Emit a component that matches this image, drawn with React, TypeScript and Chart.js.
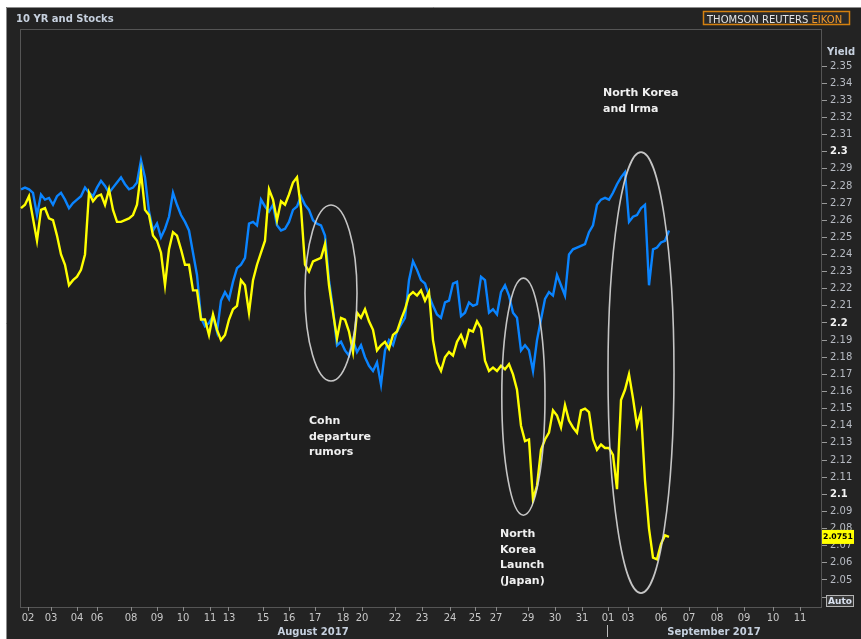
import React, { useEffect, useRef } from "react";
import { Chart, registerables } from "chart.js";

Chart.register(...registerables);

const FONT = '"DejaVu Sans", Verdana, sans-serif';

// Intraday samples (uniform step), 1 Aug 2017 evening -> 6 Sep 2017
const stocksScaled = [
  2.278, 2.279, 2.278, 2.276, 2.263, 2.275, 2.272, 2.273, 2.269, 2.274,
  2.276, 2.272, 2.267, 2.270, 2.272, 2.274, 2.279, 2.276, 2.274, 2.279,
  2.283, 2.280, 2.276, 2.279, 2.282, 2.285, 2.281, 2.278, 2.279, 2.282,
  2.295, 2.285, 2.265, 2.254, 2.258, 2.250, 2.255, 2.262, 2.276, 2.269,
  2.263, 2.259, 2.254, 2.241, 2.228, 2.203, 2.198, 2.200, 2.204, 2.195,
  2.213, 2.218, 2.214, 2.224, 2.232, 2.234, 2.238, 2.258, 2.259, 2.257,
  2.272, 2.268, 2.265, 2.269, 2.257, 2.254, 2.255, 2.259, 2.266, 2.268,
  2.274, 2.269, 2.266, 2.260, 2.258, 2.257, 2.251, 2.225, 2.208, 2.187,
  2.189, 2.184, 2.181, 2.190, 2.183, 2.187, 2.180, 2.175, 2.172, 2.177,
  2.164, 2.184, 2.190, 2.187, 2.195, 2.199, 2.203, 2.225, 2.236, 2.231,
  2.225, 2.223, 2.216, 2.210, 2.205, 2.203, 2.212, 2.213, 2.223, 2.224,
  2.204, 2.206, 2.212, 2.210, 2.211, 2.227, 2.225, 2.206, 2.208, 2.205,
  2.218, 2.222, 2.216, 2.206, 2.203, 2.184, 2.187, 2.184, 2.172, 2.190,
  2.202, 2.214, 2.218, 2.216, 2.228, 2.222, 2.216, 2.240, 2.243, 2.244,
  2.245, 2.246, 2.253, 2.257, 2.269, 2.272, 2.273, 2.272, 2.276, 2.281,
  2.285, 2.288, 2.259, 2.262, 2.263, 2.267, 2.269, 2.222, 2.243, 2.244,
  2.247, 2.248, 2.254,
];

const yield10y = [
  2.267, 2.269, 2.274, 2.261, 2.248, 2.266, 2.267, 2.261, 2.260, 2.251,
  2.240, 2.234, 2.222, 2.225, 2.227, 2.231, 2.240, 2.276, 2.271, 2.274,
  2.275, 2.269, 2.278, 2.266, 2.259, 2.259, 2.260, 2.261, 2.263, 2.269,
  2.288, 2.266, 2.263, 2.251, 2.248, 2.241, 2.222, 2.243, 2.253, 2.251,
  2.243, 2.234, 2.234, 2.219, 2.219, 2.202, 2.202, 2.193, 2.205, 2.196,
  2.190, 2.193, 2.202, 2.208, 2.210, 2.225, 2.222, 2.206, 2.225, 2.234,
  2.241, 2.248, 2.278, 2.272, 2.260, 2.271, 2.269, 2.275, 2.282, 2.285,
  2.267, 2.234, 2.230, 2.236, 2.237, 2.238, 2.246, 2.222, 2.206, 2.191,
  2.203, 2.202, 2.195, 2.183, 2.206, 2.203, 2.208, 2.201, 2.196, 2.184,
  2.187, 2.189, 2.185, 2.193, 2.195, 2.202, 2.208, 2.216, 2.218, 2.216,
  2.219, 2.213, 2.218, 2.190, 2.177, 2.172, 2.180, 2.183, 2.181, 2.189,
  2.193, 2.187, 2.196, 2.195, 2.201, 2.197, 2.178, 2.172, 2.174, 2.172,
  2.175, 2.173, 2.176, 2.170, 2.161, 2.140, 2.131, 2.132, 2.097, 2.105,
  2.126, 2.132, 2.136, 2.149, 2.146, 2.139, 2.152, 2.143, 2.139, 2.136,
  2.149, 2.150, 2.148, 2.132, 2.126, 2.129, 2.127, 2.127, 2.123, 2.103,
  2.155, 2.161, 2.170, 2.156, 2.140, 2.148, 2.108, 2.080, 2.063, 2.062,
  2.071, 2.076, 2.0751,
];

// x-axis day labels and their position (in sample index units)
const dayLabels = [
  "02", "03", "04", "06", "08", "09", "10", "11", "13", "15", "16", "17", "18", "20",
  "22", "23", "24", "25", "27", "29", "30", "31", "01", "03", "06", "07", "08", "09", "10", "11",
];
const dayPositions = [
  1.75, 7.5, 14, 19, 27.5, 34, 40.5, 47.25, 52, 60.5, 67, 73.5, 80.5, 85.25,
  93.5, 100.25, 107.25, 113.5, 118.75, 126.75, 133.5, 140.25, 146.75, 151.75, 160, 167, 174, 180.75, 188, 194.75,
];
const monthLabels = ["August 2017", "September 2017"];
const monthPositions = [73, 173.25];
const monthDivider = 146.5;

const yTickValues = [
  2.04, 2.05, 2.06, 2.07, 2.08, 2.09, 2.1, 2.11, 2.12, 2.13, 2.14, 2.15, 2.16, 2.17, 2.18, 2.19,
  2.2, 2.21, 2.22, 2.23, 2.24, 2.25, 2.26, 2.27, 2.28, 2.29, 2.3, 2.31, 2.32, 2.33, 2.34, 2.35,
];

const noteTexts = [
  ["Cohn", "departure", "rumors"],
  ["North", "Korea", "Launch", "(Japan)"],
  ["North Korea", "and Irma"],
];
const noteX = [72, 119.75, 145.5];
const noteY = [2.1428, 2.0768, 2.3342];

const ellipseCx = [77.5, 125.6, 155];
const ellipseCy = [2.2175, 2.157, 2.171];
const ellipseRx = [6.5, 5.4, 8.25];
const ellipseRy = [0.0514, 0.0692, 0.1287];

const isMajor = (v: number) => Math.abs(v * 10 - Math.round(v * 10)) < 1e-6;
const tickIsMajor = (c: any) => !!(c && c.tick && typeof c.tick.value === "number" && isMajor(c.tick.value));

const decorPlugin = {
  id: "eikonDecor",
  beforeDraw(chart: any) {
    const { ctx, width, height, chartArea } = chart;
    ctx.save();
    ctx.fillStyle = "#ffffff";
    ctx.fillRect(0, 0, width, height);
    ctx.fillStyle = "#232323";
    ctx.fillRect(6, 7, width - 6, height - 7);
    ctx.strokeStyle = "#8c8c8c";
    ctx.lineWidth = 1;
    ctx.beginPath();
    ctx.moveTo(6.5, height);
    ctx.lineTo(6.5, 7.5);
    ctx.lineTo(width, 7.5);
    ctx.stroke();
    ctx.fillStyle = "#1f1f1f";
    ctx.fillRect(chartArea.left, chartArea.top, chartArea.right - chartArea.left, chartArea.bottom - chartArea.top);
    ctx.strokeStyle = "#555555";
    ctx.strokeRect(chartArea.left + 0.5, chartArea.top + 0.5, chartArea.right - chartArea.left - 1, chartArea.bottom - chartArea.top);

    // title
    ctx.font = `bold 10px ${FONT}`;
    ctx.fillStyle = "#c6d0de";
    ctx.textBaseline = "alphabetic";
    ctx.textAlign = "left";
    ctx.fillText("10 YR and Stocks", 16, 22);

    // logo
    ctx.fillStyle = "#2a2a2a";
    ctx.fillRect(703, 11, 147, 14);
    ctx.strokeStyle = "#d4800f";
    ctx.lineWidth = 1.5;
    ctx.strokeRect(703.5, 11.5, 146, 13);
    const part1 = "THOMSON REUTERS ";
    const full = part1 + "EIKON";
    let fs = 11;
    ctx.font = `${fs}px ${FONT}`;
    while (ctx.measureText(full).width > 138 && fs > 7) {
      fs -= 0.25;
      ctx.font = `${fs}px ${FONT}`;
    }
    ctx.fillStyle = "#e4e4e4";
    ctx.fillText(part1, 707, 22.5);
    const w1 = ctx.measureText(part1).width;
    ctx.fillStyle = "#f39a2a";
    ctx.fillText("EIKON", 707 + w1, 22.5);

    // axis title
    ctx.font = `bold 10px ${FONT}`;
    ctx.fillStyle = "#c6d0de";
    ctx.fillText("Yield", 827, 55);
    ctx.restore();
  },
  afterDatasetsDraw(chart: any) {
    const { ctx } = chart;
    const xs = chart.scales.x;
    const ys = chart.scales.y;
    ctx.save();
    ctx.strokeStyle = "rgba(215,215,215,0.9)";
    ctx.lineWidth = 1.6;
    for (let i = 0; i < ellipseCx.length; i++) {
      const cx = xs.getPixelForValue(ellipseCx[i]);
      const cy = ys.getPixelForValue(ellipseCy[i]);
      const rx = Math.abs(xs.getPixelForValue(ellipseCx[i] + ellipseRx[i]) - cx);
      const ry = Math.abs(ys.getPixelForValue(ellipseCy[i] + ellipseRy[i]) - cy);
      ctx.beginPath();
      ctx.ellipse(cx, cy, rx, ry, 0, 0, Math.PI * 2);
      ctx.stroke();
    }
    ctx.font = `bold 11px ${FONT}`;
    ctx.fillStyle = "#f0f0f0";
    ctx.textBaseline = "middle";
    ctx.textAlign = "left";
    for (let i = 0; i < noteTexts.length; i++) {
      const px = xs.getPixelForValue(noteX[i]);
      const py = ys.getPixelForValue(noteY[i]);
      noteTexts[i].forEach((t, k) => ctx.fillText(t, px, py + k * 15.7));
    }
    ctx.restore();
  },
  afterDraw(chart: any) {
    const { ctx, chartArea } = chart;
    const xs = chart.scales.x;
    const ys = chart.scales.y;
    ctx.save();
    const last = yield10y[yield10y.length - 1];
    const ly = ys.getPixelForValue(last);
    const lbl = last.toFixed(4);
    let fs = 10;
    ctx.font = `bold ${fs}px ${FONT}`;
    while (ctx.measureText(lbl).width > 30 && fs > 7) {
      fs -= 0.25;
      ctx.font = `bold ${fs}px ${FONT}`;
    }
    ctx.fillStyle = "#ffff00";
    ctx.fillRect(chartArea.right, ly - 7, 32, 14);
    ctx.fillStyle = "#000000";
    ctx.textBaseline = "middle";
    ctx.textAlign = "left";
    ctx.fillText(lbl, chartArea.right + 1, ly + 0.5);

    ctx.fillStyle = "#3a3a3a";
    ctx.fillRect(826, 595, 28, 12);
    ctx.strokeStyle = "#b4b4b4";
    ctx.lineWidth = 1;
    ctx.strokeRect(826.5, 595.5, 27, 11);
    ctx.font = `bold 9px ${FONT}`;
    ctx.fillStyle = "#d8e0ee";
    ctx.textAlign = "center";
    ctx.fillText("Auto", 840, 601.5);

    ctx.font = `bold 10px ${FONT}`;
    ctx.fillStyle = "#c6d0de";
    ctx.textAlign = "center";
    monthLabels.forEach((m, i) => ctx.fillText(m, xs.getPixelForValue(monthPositions[i]), 632));
    const dx = Math.round(xs.getPixelForValue(monthDivider)) + 0.5;
    ctx.strokeStyle = "#bbbbbb";
    ctx.beginPath();
    ctx.moveTo(dx, 625);
    ctx.lineTo(dx, 637);
    ctx.stroke();
    ctx.restore();
  },
};

export default function App() {
  const ref = useRef<HTMLCanvasElement | null>(null);
  useEffect(() => {
    if (!ref.current) return;
    const chart = new Chart(ref.current, {
      type: "line",
      data: {
        datasets: [
          {
            label: "10 YR Yield",
            data: yield10y.map((v, i) => ({ x: i, y: v })),
            borderColor: "#ffff00",
            borderWidth: 2.4,
            pointRadius: 0,
            tension: 0,
            yAxisID: "y",
          },
          {
            label: "Stocks",
            data: stocksScaled.map((v, i) => ({ x: i, y: v })),
            borderColor: "#0a84ff",
            borderWidth: 2.4,
            pointRadius: 0,
            tension: 0,
            yAxisID: "y",
          },
        ],
      },
      options: {
        animation: false,
        responsive: false,
        devicePixelRatio: 1,
        layout: { padding: { left: 20, top: 29, right: 0, bottom: 0 } },
        plugins: { legend: { display: false }, tooltip: { enabled: false }, title: { display: false } },
        scales: {
          x: {
            type: "linear",
            min: -0.25,
            max: 200.25,
            border: { display: false },
            grid: { drawOnChartArea: false, drawTicks: true, tickLength: 4, tickColor: "#8a8a8a" },
            afterBuildTicks: (axis: any) => {
              axis.ticks = dayPositions.map((v) => ({ value: v }));
            },
            afterFit: (axis: any) => {
              axis.height = 32;
            },
            ticks: {
              autoSkip: false,
              maxRotation: 0,
              padding: 1,
              color: "#c8c8c8",
              font: { family: FONT, size: 10 },
              callback: (_v: any, i: number) => dayLabels[i],
            },
          },
          y: {
            type: "linear",
            position: "right",
            min: 2.0342,
            max: 2.3716,
            border: { display: false },
            grid: { drawOnChartArea: false, drawTicks: true, tickLength: 5, tickColor: "#9a9a9a" },
            afterBuildTicks: (axis: any) => {
              axis.ticks = yTickValues.map((v) => ({ value: v }));
            },
            afterFit: (axis: any) => {
              axis.width = 39;
            },
            ticks: {
              padding: 3,
              color: (c: any) => (tickIsMajor(c) ? "#f2f2f2" : "#b8bcc4"),
              font: (c: any) => ({ family: FONT, size: 10, weight: tickIsMajor(c) ? "bold" : "normal" }),
              callback: (v: any) => {
                const n = Number(v);
                if (Math.abs(n - 2.04) < 1e-6) return "";
                return isMajor(n) ? n.toFixed(1) : n.toFixed(2);
              },
            },
          },
        },
      },
      plugins: [decorPlugin],
    });
    return () => chart.destroy();
  }, []);
  return (
    <div style={{ position: "fixed", left: 0, top: 0, width: 861, height: 639 }}>
      <canvas ref={ref} width={861} height={639} style={{ width: 861, height: 639, display: "block" }} />
    </div>
  );
}
